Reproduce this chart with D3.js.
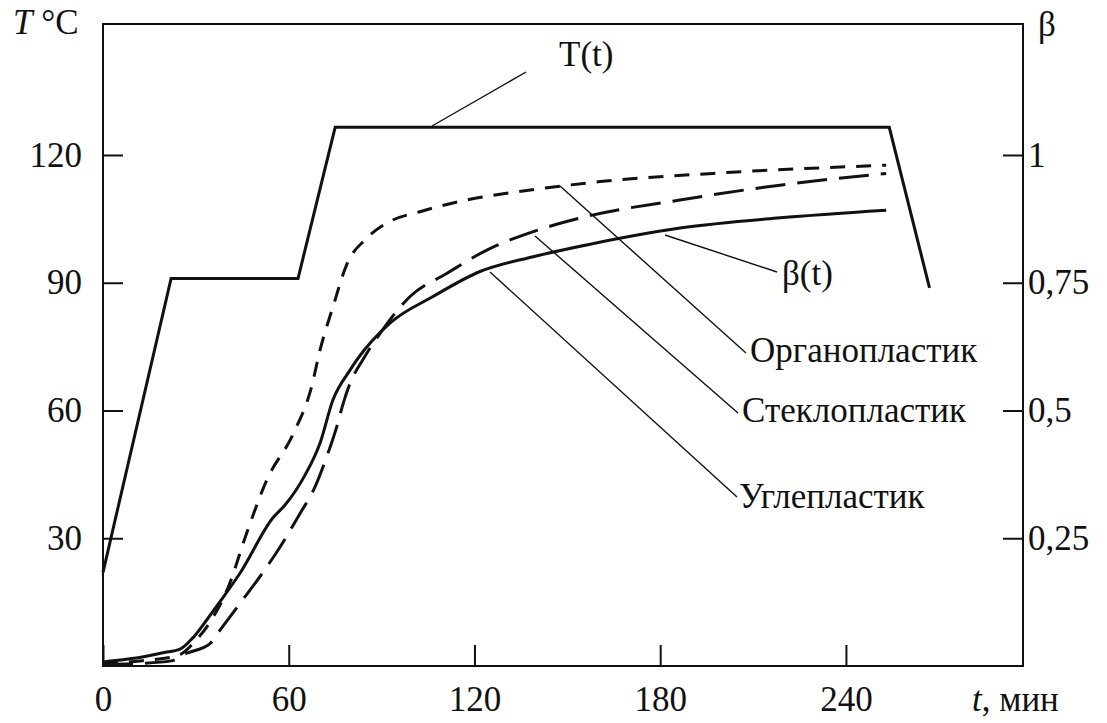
<!DOCTYPE html>
<html><head><meta charset="utf-8">
<script src="https://cdn.jsdelivr.net/npm/d3@7/dist/d3.min.js"></script>
<style>
html,body{margin:0;padding:0;background:#fff;}
</style></head>
<body>
<svg id="c" width="1107" height="723"></svg>
<script>
// ---- data ----
const tempT = [0, 22, 63, 75, 254, 267];
const tempV = [22, 91, 91, 126.5, 126.5, 88.8];

const organoT = [0, 12, 24, 30, 35, 40.5, 46.4, 52.9, 61.5, 67.4, 70.1, 74.4, 78.7, 85.2, 92.7, 102.4, 117.5, 133.7, 147.7, 160.6, 197, 253];
const organoB = [0.005, 0.01, 0.02, 0.05, 0.09, 0.155, 0.26, 0.364, 0.455, 0.547, 0.618, 0.705, 0.785, 0.837, 0.870, 0.889, 0.912, 0.928, 0.939, 0.948, 0.964, 0.980];

const stekloT = [0, 12, 22, 27, 32, 34.6, 37.8, 44.3, 50.7, 57.2, 63.7, 68, 72.3, 75.5, 77.6, 79.8, 84, 89.5, 99.2, 111, 124, 139, 155, 186.4, 218.7, 253];
const stekloB = [0.003, 0.005, 0.01, 0.025, 0.035, 0.044, 0.07, 0.123, 0.175, 0.233, 0.299, 0.344, 0.41, 0.468, 0.514, 0.553, 0.60, 0.651, 0.723, 0.768, 0.814, 0.850, 0.878, 0.912, 0.941, 0.964];

const uglT = [0, 10, 19.4, 24.9, 29, 33.5, 37.8, 44.3, 54.9, 58.8, 65.3, 70.1, 74.3, 79.8, 82, 92.7, 106.6, 121.8, 139, 157, 186.4, 218.7, 253];
const uglB = [0.008, 0.015, 0.026, 0.033, 0.055, 0.09, 0.126, 0.182, 0.29, 0.315, 0.374, 0.436, 0.521, 0.579, 0.599, 0.671, 0.723, 0.772, 0.801, 0.825, 0.857, 0.877, 0.892];

const xTicks = [0, 60, 120, 180, 240];
const leftTicks = [30, 60, 90, 120];
const rightTicks = [0.25, 0.5, 0.75, 1];
const rightTickLabels = ["0,25", "0,5", "0,75", "1"];

// ---- layout ----
const L = 103, R = 1023, T = 24, B = 666;
const svg = d3.select("#c");
const x = d3.scaleLinear().domain([0, 297.2]).range([L, R]);
const yT = d3.scaleLinear().domain([0, 150.76]).range([B, T]);
const yB = d3.scaleLinear().domain([0, 150.76 / 120]).range([B, T]);
const FS = 35;
const FF = "'Liberation Serif'";

// frame
svg.append("rect").attr("x", L).attr("y", T).attr("width", R - L).attr("height", B - T)
  .attr("fill", "none").attr("stroke", "#111").attr("stroke-width", 2);

function styleAxis(g) {
  g.attr("font-family", null).attr("font-size", null);
  g.select(".domain").remove();
  g.selectAll(".tick line").attr("stroke", "#111").attr("stroke-width", 2);
  g.selectAll(".tick text").attr("font-size", FS).attr("fill", "#111").style("font-family", FF);
}

svg.append("g").attr("transform", `translate(${L},0)`)
  .call(d3.axisLeft(yT).tickValues(leftTicks).tickSize(-20).tickPadding(21).tickFormat(d3.format("d")))
  .call(styleAxis);

svg.append("g").attr("transform", `translate(${R},0)`)
  .call(d3.axisRight(yB).tickValues(rightTicks).tickSize(-20).tickPadding(5)
    .tickFormat((d, i) => rightTickLabels[i]))
  .call(styleAxis);

svg.append("g").attr("transform", `translate(0,${B})`)
  .call(d3.axisBottom(x).tickValues(xTicks).tickSize(-21).tickPadding(20).tickFormat(d3.format("d")))
  .call(styleAxis);

// curves
const lineT = d3.line().x((d, i) => x(tempT[i])).y(d => yT(d));
svg.append("path").attr("d", lineT(tempV)).attr("fill", "none")
  .attr("stroke", "#111").attr("stroke-width", 3).attr("stroke-linejoin", "miter");

function betaLine(ts, bs, dash) {
  const ln = d3.line().curve(d3.curveMonotoneX).x((d, i) => x(ts[i])).y(d => yB(d));
  svg.append("path").attr("d", ln(bs)).attr("fill", "none")
    .attr("stroke", "#111").attr("stroke-width", 3)
    .attr("stroke-dasharray", dash);
}
betaLine(organoT, organoB, "15,11");
betaLine(stekloT, stekloB, "30,12");
betaLine(uglT, uglB, null);

// leader lines + labels
function leader(x1, y1, x2, y2) {
  svg.append("line").attr("x1", x1).attr("y1", y1).attr("x2", x2).attr("y2", y2)
    .attr("stroke", "#111").attr("stroke-width", 1.4);
}
leader(432, 126, 526, 72);
leader(665, 235, 777, 272);
leader(560, 186, 746, 353);
leader(535, 236, 738, 413);
leader(490, 272, 737, 497);

function label(txt, px, py) {
  return svg.append("text").attr("x", px).attr("y", py).attr("font-size", FS)
    .attr("fill", "#111").style("font-family", FF).text(txt);
}
label("T(t)", 559, 66);
label("β(t)", 782, 285);
label("Органопластик", 750, 362);
label("Стеклопластик", 742, 422);
label("Углепластик", 739, 508);

// axis titles
const tt = svg.append("text").attr("x", 13).attr("y", 34).attr("font-size", FS)
  .attr("fill", "#111").style("font-family", FF);
tt.append("tspan").attr("font-style", "italic").text("T");
tt.append("tspan").text(" °C");
label("β", 1038, 36);
const xt = svg.append("text").attr("x", 972).attr("y", 711).attr("font-size", FS)
  .attr("fill", "#111").style("font-family", FF);
xt.append("tspan").attr("font-style", "italic").text("t");
xt.append("tspan").text(", мин");
</script>
</body></html>
